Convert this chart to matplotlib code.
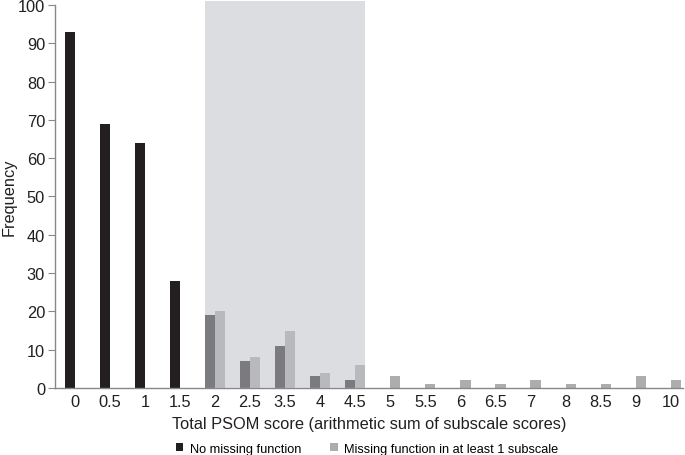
import matplotlib.pyplot as plt
import numpy as np

plt.rcParams['font.family'] = ['Liberation Sans', 'DejaVu Sans']

scores = ['0', '0.5', '1', '1.5', '2', '2.5', '3.5', '4', '4.5',
          '5', '5.5', '6', '6.5', '7', '8', '8.5', '9', '10']
no_missing = [93, 69, 64, 28, 19, 7, 11, 3, 2, 0, 0, 0, 0, 0, 0, 0, 0, 0]
missing = [0, 0, 0, 0, 20, 8, 15, 4, 6, 3, 1, 2, 1, 2, 1, 1, 3, 2]

x = np.arange(len(scores))
w = 0.29
txt = '#231f20'

fig = plt.figure(figsize=(6.85, 4.56), dpi=100)
ax = fig.add_axes([0.080, 0.147, 0.917, 0.840])

ax.bar(x - w / 2, no_missing, width=w, color=txt, label='No missing function')
ax.bar(x + w / 2, missing, width=w, color='#adadb0',
       label='Missing function in at least 1 subscale')

# shaded band over scores 2 - 4.5
ax.axvspan(4 - w, 8 + w, ymin=0, ymax=1.01, color='#c1c3c8', alpha=0.56,
           lw=0, zorder=3, clip_on=False)

ax.set_xlim(-0.57, 17.35)
ax.set_ylim(0, 100)
ax.set_yticks(range(0, 101, 10))
ax.set_xticks(x)
ax.set_xticklabels(scores)
ax.tick_params(axis='x', length=0, labelsize=11.8, pad=4, colors=txt)
ax.tick_params(axis='y', length=5, direction='out', color='#888888',
               labelsize=11.8, pad=2, labelcolor=txt)
for s in ['top', 'right']:
    ax.spines[s].set_visible(False)
for s in ['left', 'bottom']:
    ax.spines[s].set_color('#888888')
    ax.spines[s].set_linewidth(1.0)

fig.text(9 / 685, 0.5 + 0.147 * 0.5 - 0.013 * 0.5, 'Frequency', rotation=90,
         ha='center', va='center', fontsize=11.8, color=txt)
ax.set_xlabel('Total PSOM score (arithmetic sum of subscale scores)', fontsize=11.8,
              color=txt)
ax.xaxis.set_label_coords(0.5, -0.074)

fig.legend(loc='center', bbox_to_anchor=(0.536, 0.014), ncol=2, frameon=False,
           fontsize=9.2, handlelength=0.6, handleheight=0.6, handletextpad=0.5,
           columnspacing=2.3, borderpad=0, borderaxespad=0)

fig.savefig('out.png', dpi=100)
